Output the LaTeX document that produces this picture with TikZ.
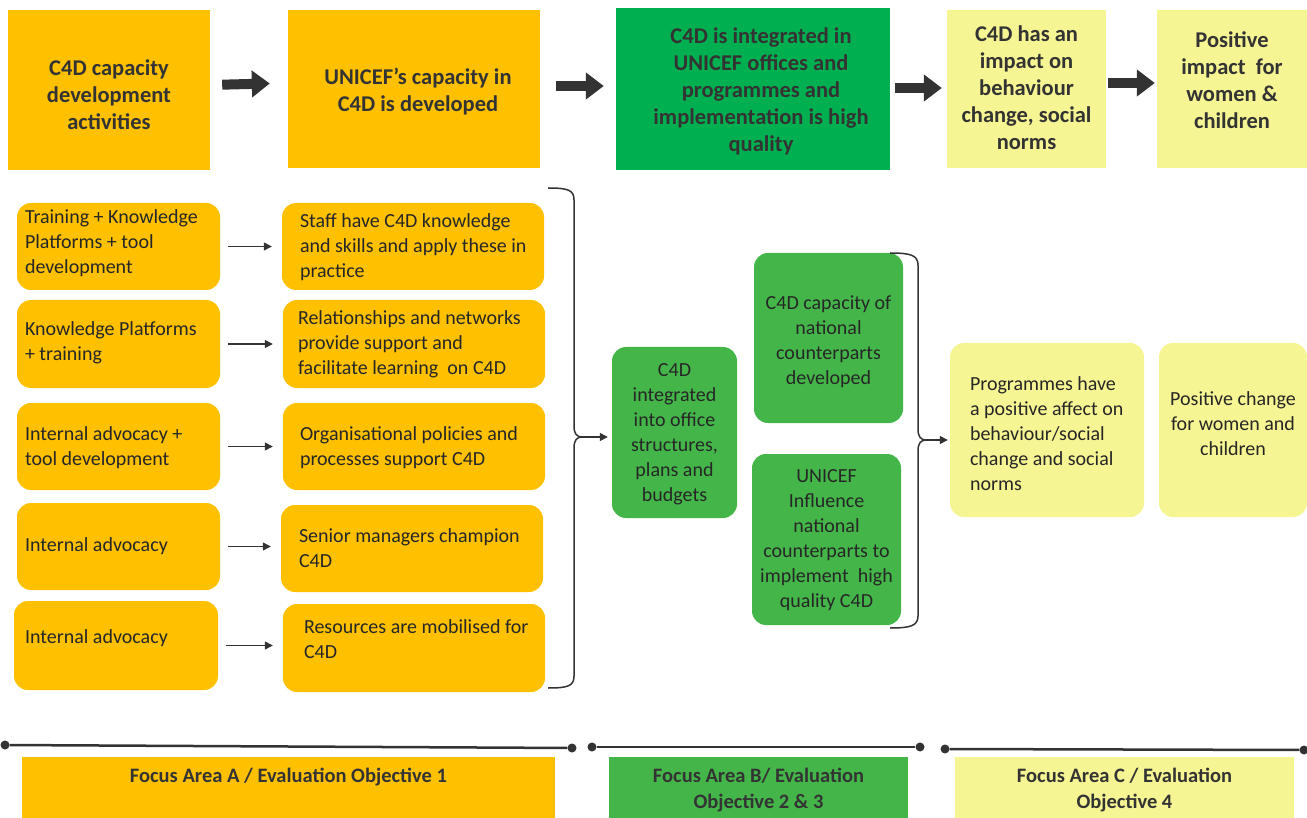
\documentclass[tikz,border=0pt]{standalone}
\usepackage{fontspec}
\setmainfont{Carlito}
\usetikzlibrary{arrows.meta}
\definecolor{corange}{HTML}{FFC000}
\definecolor{cdkgreen}{HTML}{00B050}
\definecolor{cgreen}{HTML}{44B649}
\definecolor{cyellow}{HTML}{F6F593}
\definecolor{ctext}{HTML}{262626}
\definecolor{carrow}{HTML}{333333}
\tikzset{
  topbox/.style={draw=none, inner sep=0pt, align=center, text=carrow,
    font=\fontsize{22.5}{27}\selectfont\bfseries},
  rbox/.style={draw=none, rounded corners=14pt, inner sep=0pt, text=ctext,
    font=\fontsize{20}{25}\selectfont},
  lt/.style 2 args={text width=#1, align=flush left, execute at begin node={\leftskip=#2\relax}},
  fb/.style={text height=0pt, text depth=#1},
  lb/.style={text height=#1, text depth=0pt},
  bigarrow/.style={draw=carrow, line width=10pt, -{Triangle[length=18pt,width=26pt]}},
  smallarrow/.style={draw=carrow, line width=1.3pt, -{Triangle[length=8pt,width=8pt]}},
  bracel/.style={draw=carrow, line width=1.5pt},
  dot/.style={circle, fill=carrow, inner sep=0pt, minimum size=9pt},
  tline/.style={draw=carrow, line width=2.5pt},
  fbox/.style={draw=none, inner sep=0pt, align=center, text=carrow,
    font=\fontsize{20.5}{26}\selectfont\bfseries},
}
\newcommand{\sh}{\hspace*{16pt}}
\begin{document}
\begin{tikzpicture}[x=1pt,y=-1pt]
\useasboundingbox (0,0) rectangle (1307,818);
% top row
\node[topbox, fill=corange, minimum width=202pt, minimum height=160pt, lb=80pt] (t1) at (109,90) {C4D capacity\\development\\activities};
\node[topbox, fill=corange, minimum width=252pt, minimum height=158pt, lb=46pt] (t2) at (414,89) {\hspace*{8pt}UNICEF's capacity in\\\hspace*{8pt}C4D is developed};
\node[topbox, fill=cdkgreen, minimum width=274pt, minimum height=162pt, lb=126pt] (t3) at (753,89) {\sh C4D is integrated in\\\sh UNICEF offices and\\\sh programmes and\\\sh implementation is high\\\sh quality};
\node[topbox, fill=cyellow, minimum width=159pt, minimum height=158pt, lb=122pt] (t4) at (1026.5,89) {C4D has an\\impact on\\behaviour\\change, social\\norms};
\node[topbox, fill=cyellow, minimum width=150pt, minimum height=158pt, lb=80pt] (t5) at (1232,89) {Positive\\impact~ for\\women \&\\children};
\draw[bigarrow, shorten <=12pt, shorten >=18pt] ([yshift=5pt]t1.east) -- ([yshift=6pt]t2.west);
\draw[bigarrow, shorten <=16pt, shorten >=12pt] ([yshift=3pt]t2.east) -- ([yshift=3pt]t3.west);
\draw[bigarrow, shorten <=5pt, shorten >=5pt] ([yshift=1pt]t3.east) -- ([yshift=1pt]t4.west);
\draw[bigarrow, shorten <=2pt, shorten >=2pt] ([yshift=6pt]t4.east) -- ([yshift=6pt]t5.west);
% left column
\node[rbox, fill=corange, minimum width=203pt, minimum height=87pt, lt={187pt}{0pt}, fb=46pt] (l1) at (118.5,246.5) {Training + Knowledge\\Platforms + tool\\development};
\node[rbox, fill=corange, minimum width=262pt, minimum height=87pt, lt={250pt}{12pt}, fb=38pt] (r1) at (413,246.5) {Staff have C4D knowledge\\and skills and apply these in\\practice};
\node[rbox, fill=corange, minimum width=203pt, minimum height=88pt, lt={187pt}{0pt}, fb=17pt] (l2) at (118.5,344) {Knowledge Platforms\\+ training};
\node[rbox, fill=corange, minimum width=262pt, minimum height=88pt, lt={250pt}{9pt}, fb=39pt] (r2) at (414,344) {Relationships and networks\\provide support and\\facilitate learning~ on C4D};
\node[rbox, fill=corange, minimum width=203pt, minimum height=87pt, lt={187pt}{0pt}, fb=12pt] (l3) at (118.5,446.5) {Internal advocacy +\\tool development};
\node[rbox, fill=corange, minimum width=262pt, minimum height=87pt, lt={250pt}{11pt}, fb=12pt] (r3) at (414,446.5) {Organisational policies and\\processes support C4D};
\node[rbox, fill=corange, minimum width=203pt, minimum height=87pt, lt={187pt}{0pt}, text height=10pt, text depth=0pt] (l4) at (118.5,546.5) {Internal advocacy};
\node[rbox, fill=corange, minimum width=262pt, minimum height=87pt, lt={250pt}{12pt}, fb=12pt] (r4) at (412,548.5) {Senior managers champion\\C4D};
\node[rbox, fill=corange, minimum width=204pt, minimum height=89pt, lt={182pt}{0pt}, fb=4pt] (l5) at (116,645.5) {Internal advocacy};
\node[rbox, fill=corange, minimum width=262pt, minimum height=88pt, lt={250pt}{15pt}, fb=29pt] (r5) at (414,648) {Resources are mobilised for\\C4D};
\foreach \i in {1,...,5} {
  \draw[smallarrow, shorten <=8pt, shorten >=10pt] (l\i.east) -- (l\i.east -| r\i.west);
}
% brace 1
\coordinate (b1top) at (548,188);
\coordinate (b1tip) at (582,437);
\coordinate (b1bot) at (548,688);
\draw[bracel] (b1top) .. controls (568,188) and (574,190) .. (574,200) -- (574,426) .. controls (574,434) and (577,437) .. (b1tip) .. controls (577,437) and (574,440) .. (574,448) -- (574,676) .. controls (574,686) and (568,688) .. (b1bot);
% middle greens
\node[rbox, fill=cgreen, minimum width=125pt, minimum height=171pt, align=center, lb=138pt] (m1) at (674.5,432.5) {C4D\\integrated\\into office\\structures,\\plans and\\budgets};
\node[rbox, fill=cgreen, minimum width=149pt, minimum height=170pt, align=center, lb=93pt] (m2) at (828.5,338) {C4D capacity of\\national\\counterparts\\developed};
\node[rbox, fill=cgreen, minimum width=149pt, minimum height=171pt, align=center, lb=136pt] (m3) at (826.5,539.5) {UNICEF\\Influence\\national\\counterparts to\\implement~ high\\quality C4D};
\draw[smallarrow, shorten >=4pt] (b1tip) -- (b1tip -| m1.west);
% brace 2
\coordinate (b2top) at (890,253);
\coordinate (b2tip) at (926,440);
\coordinate (b2bot) at (890,628);
\draw[bracel] (b2top) .. controls (910,253) and (918,255) .. (918,265) -- (918,429) .. controls (918,437) and (921,440) .. (b2tip) .. controls (921,440) and (918,443) .. (918,451) -- (918,616) .. controls (918,626) and (910,628) .. (b2bot);
% right yellows
\node[rbox, fill=cyellow, minimum width=194pt, minimum height=174pt, lt={180pt}{13pt}, fb=79pt] (y1) at (1047,430) {Programmes have\\a positive affect on\\behaviour/social\\change and social\\norms};
\node[rbox, fill=cyellow, minimum width=148pt, minimum height=174pt, align=center, lb=51pt] (y2) at (1233,430) {Positive change\\for women and\\children};
\draw[smallarrow, shorten >=2pt] (b2tip) -- (b2tip -| y1.west);
% bottom timeline
\node[dot] (d1) at (5,745) {};
\node[dot] (d2) at (572,748) {};
\node[dot] (d3) at (592,747) {};
\node[dot] (d4) at (920,747) {};
\node[dot] (d5) at (945,749) {};
\node[dot] (d6) at (1304,750) {};
\draw[tline] (d1) -- (d2);
\draw[tline] (d3) -- (d4);
\draw[tline] (d5) -- (d6);
\node[fbox, fill=corange, minimum width=533pt, minimum height=62pt, fb=11pt] (f1) at (288.5,788) {Focus Area A / Evaluation Objective 1};
\node[fbox, fill=cgreen, minimum width=299pt, minimum height=62pt, lb=40pt] (f2) at (758.5,788) {Focus Area B/ Evaluation\\Objective 2 \& 3};
\node[fbox, fill=cyellow, minimum width=339pt, minimum height=62pt, lb=40pt] (f3) at (1124.5,788) {Focus Area C / Evaluation\\Objective 4};
\end{tikzpicture}
\end{document}
